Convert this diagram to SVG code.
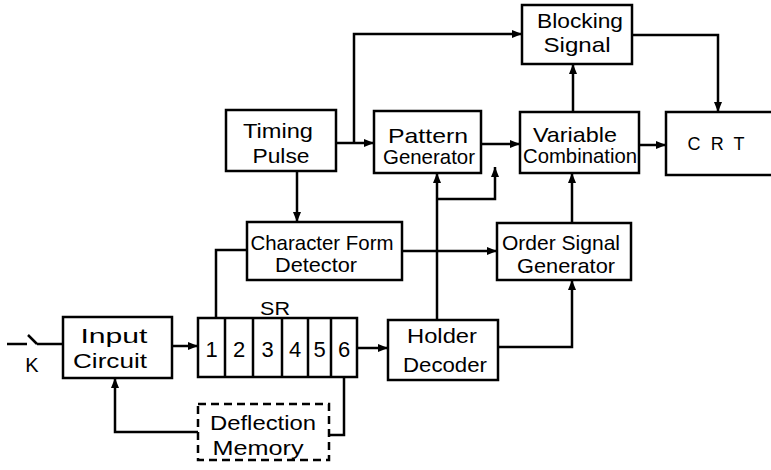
<svg xmlns="http://www.w3.org/2000/svg" width="771" height="470" viewBox="0 0 771 470">
<style>
.box{fill:#fff;stroke:#000;stroke-width:2.5}
.dash{fill:#fff;stroke:#000;stroke-width:2.5;stroke-dasharray:8 5}
.wire{fill:none;stroke:#000;stroke-width:2.5}
.arr{marker-end:url(#ah)}
text{font-family:"Liberation Sans",Arial,sans-serif;font-size:21px;fill:#000;text-anchor:middle}
</style>
<defs>
<marker id="ah" markerUnits="userSpaceOnUse" markerWidth="10" markerHeight="8" refX="10" refY="4" orient="auto">
<path d="M0,0 L10,4 L0,8 z" fill="#000"/>
</marker>
</defs>
<rect width="771" height="470" fill="#fff"/>
<g id="connectors">
<path class="wire" d="M7,344 H27 M28,335 L37,344 M37,344 H63"/>
<path class="wire arr" d="M172,346 H198"/>
<path class="wire arr" d="M357,348 H388"/>
<path class="wire" d="M344,377 V435 H330"/>
<path class="wire arr" d="M198,432 H115 V378"/>
<path class="wire" d="M247,250 H216 V318"/>
<path class="wire arr" d="M297,171 V222"/>
<path class="wire arr" d="M336,143 H374"/>
<path class="wire arr" d="M354,143 V34 H522"/>
<path class="wire arr" d="M632,35 H718 V112"/>
<path class="wire arr" d="M481,144 H520"/>
<path class="wire arr" d="M639,145 H666"/>
<path class="wire arr" d="M573,112 V64"/>
<path class="wire arr" d="M572,223 V173"/>
<path class="wire arr" d="M402,251 H497"/>
<path class="wire arr" d="M437,320 V173"/>
<path class="wire arr" d="M437,199 H495 V167"/>
<path class="wire arr" d="M498,347 H572 V280"/>
</g>
<g id="K"><text x="32" y="372" style="font-size:20px">K</text></g>
<g id="input-circuit">
<rect class="box" x="63" y="317" width="109" height="61"/>
<text x="114" y="343" textLength="67" lengthAdjust="spacingAndGlyphs">Input</text>
<text x="110" y="368" textLength="74" lengthAdjust="spacingAndGlyphs">Circuit</text>
</g>
<g id="timing-pulse">
<rect class="box" x="226" y="110" width="110" height="61"/>
<text x="278" y="138" textLength="70" lengthAdjust="spacingAndGlyphs">Timing</text>
<text x="281" y="163" textLength="57" lengthAdjust="spacingAndGlyphs">Pulse</text>
</g>
<g id="pattern-generator">
<rect class="box" x="374" y="111" width="107" height="62"/>
<text x="428" y="143" textLength="80" lengthAdjust="spacingAndGlyphs">Pattern</text>
<text x="429" y="164" textLength="92" lengthAdjust="spacingAndGlyphs">Generator</text>
</g>
<g id="blocking-signal">
<rect class="box" x="522" y="5" width="110" height="59"/>
<text x="580" y="28" textLength="86" lengthAdjust="spacingAndGlyphs">Blocking</text>
<text x="577" y="52" textLength="67" lengthAdjust="spacingAndGlyphs">Signal</text>
</g>
<g id="variable-combination">
<rect class="box" x="520" y="112" width="119" height="61"/>
<text x="575" y="142" textLength="84" lengthAdjust="spacingAndGlyphs">Variable</text>
<text x="580" y="163" textLength="114" lengthAdjust="spacingAndGlyphs">Combination</text>
</g>
<g id="crt">
<rect class="box" x="666" y="112" width="108" height="63"/>
<text x="716" y="150" style="font-size:18px" textLength="57" lengthAdjust="spacing">C R T</text>
</g>
<g id="character-form-detector">
<rect class="box" x="247" y="222" width="155" height="58"/>
<text x="322" y="250" textLength="143" lengthAdjust="spacingAndGlyphs">Character Form</text>
<text x="316" y="272" textLength="82" lengthAdjust="spacingAndGlyphs">Detector</text>
</g>
<g id="order-signal-generator">
<rect class="box" x="497" y="223" width="134" height="57"/>
<text x="561" y="250" textLength="118" lengthAdjust="spacingAndGlyphs">Order Signal</text>
<text x="566" y="273" textLength="98" lengthAdjust="spacingAndGlyphs">Generator</text>
</g>
<g id="holder-decoder">
<rect class="box" x="388" y="320" width="110" height="60"/>
<text x="442" y="343" textLength="70" lengthAdjust="spacingAndGlyphs">Holder</text>
<text x="445" y="372" textLength="84" lengthAdjust="spacingAndGlyphs">Decoder</text>
</g>
<g id="sr">
<text x="275" y="315" style="font-size:19px" textLength="30" lengthAdjust="spacingAndGlyphs">SR</text>
<rect class="box" x="198" y="318" width="159" height="59"/>
<path class="wire" d="M225,318 V377 M253,318 V377 M282,318 V377 M308,318 V377 M331,318 V377"/>
<text x="211.5" y="357" style="font-size:22px">1</text>
<text x="239" y="357" style="font-size:22px">2</text>
<text x="267.5" y="357" style="font-size:22px">3</text>
<text x="295" y="357" style="font-size:22px">4</text>
<text x="319.5" y="357" style="font-size:22px">5</text>
<text x="344" y="357" style="font-size:22px">6</text>
</g>
<g id="deflection-memory">
<rect class="dash" x="198" y="404" width="131" height="56"/>
<text x="263" y="430" textLength="106" lengthAdjust="spacingAndGlyphs">Deflection</text>
<text x="258" y="455" textLength="91" lengthAdjust="spacingAndGlyphs">Memory</text>
</g>
</svg>
